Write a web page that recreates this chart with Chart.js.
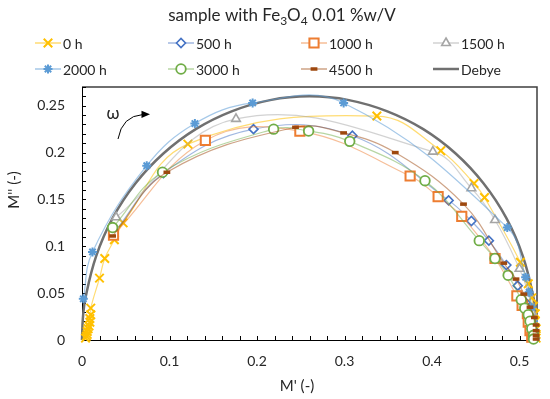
<!DOCTYPE html>
<html>
<head>
<meta charset="utf-8">
<script src="https://cdn.jsdelivr.net/npm/chart.js@4.4.1/dist/chart.umd.min.js"></script>
<style>
  html, body { margin: 0; padding: 0; background: #fff; }
</style>
</head>
<body>
<canvas id="colePlot" width="550" height="399"></canvas>
<script>
// ---- data (M', M'') ----
const seriesNames = ["0 h", "500 h", "1000 h", "1500 h", "2000 h", "3000 h", "4500 h", "Debye"];

const m0h = [[0.004,0.002],[0.005,0.004],[0.006,0.006],[0.006,0.009],[0.007,0.012],[0.008,0.015],[0.009,0.019],
  [0.009,0.023],[0.010,0.027],[0.010,0.034],[0.020,0.066],[0.026,0.087],[0.037,0.107],[0.047,0.125],
  [0.121,0.209],[0.337,0.239],[0.410,0.202],[0.448,0.167],[0.460,0.152],[0.501,0.083],[0.510,0.060],
  [0.514,0.045],[0.516,0.036],[0.518,0.028],[0.518,0.020],[0.519,0.012],[0.519,0.006],[0.519,0.002]];
const m500h = [[0.036,0.114],[0.093,0.178],[0.196,0.225],[0.309,0.218],
  [0.419,0.149],[0.445,0.127],[0.465,0.106],[0.485,0.080],[0.498,0.058],[0.507,0.040],[0.512,0.025],
  [0.515,0.012],[0.516,0.004]];
const m1000h = [[0.036,0.112],[0.141,0.213],[0.249,0.223],[0.375,0.175],
  [0.407,0.153],[0.434,0.132],[0.472,0.087],[0.497,0.047],[0.503,0.037],[0.509,0.028],[0.510,0.019],
  [0.512,0.010],[0.514,0.003]];
const m1500h = [[0.039,0.131],[0.176,0.236],[0.401,0.201],[0.445,0.162],[0.472,0.128],
  [0.500,0.076],[0.510,0.050],[0.514,0.030],[0.516,0.012],[0.517,0.003]];
const m2000h = [[0.0015,0.044],[0.012,0.094],[0.074,0.186],[0.129,0.231],[0.195,0.253],
  [0.299,0.253],[0.486,0.120],[0.507,0.067],[0.511,0.051],[0.514,0.035],[0.516,0.020],[0.517,0.008],
  [0.518,0.002]];
const m3000h = [[0.035,0.120],[0.092,0.179],[0.219,0.225],[0.259,0.223],
  [0.306,0.212],[0.392,0.170],[0.454,0.106],[0.472,0.087],[0.487,0.069],[0.502,0.043],[0.506,0.034],
  [0.510,0.027],[0.512,0.020],[0.514,0.012],[0.516,0.005],[0.516,0.001]];
const m4500h = [[0.035,0.111],[0.097,0.179],[0.244,0.227],[0.299,0.221],
  [0.358,0.200],[0.436,0.145],[0.482,0.082],[0.496,0.065],[0.505,0.049],[0.512,0.035],[0.517,0.024],
  [0.519,0.016],[0.519,0.010],[0.519,0.005],[0.519,0.001]];
const mDebye = [[0,0],[0.001,0.023],[0.004,0.045],[0.016,0.089],[0.035,0.130],[0.061,0.167],[0.093,0.199],
  [0.130,0.225],[0.171,0.244],[0.215,0.256],[0.260,0.260],[0.305,0.256],[0.349,0.244],[0.390,0.225],
  [0.427,0.199],[0.459,0.167],[0.485,0.130],[0.504,0.089],[0.516,0.045],[0.519,0.023],[0.520,0]];

const xTickValues = [0, 0.1, 0.2, 0.3, 0.4, 0.5];
const xTickLabels = ["0", "0.1", "0.2", "0.3", "0.4", "0.5"];
const yTickValues = [0, 0.05, 0.1, 0.15, 0.2, 0.25];
const yTickLabels = ["0", "0.05", "0.1", "0.15", "0.2", "0.25"];

const titleParts = [["sample with Fe", false], ["3", true], ["O", false], ["4", true], [" 0.01 %w/V", false]];
const xTitle = "M' (-)";
const yTitle = "M'' (-)";

// ---- styles ----
const FONT = "Lato, 'Open Sans', sans-serif";
const TEXT = "#262626";

const styles = [
  { line: "rgba(255,192,0,0.55)",  mark: "#FFC000", style: "crossRot", r: 6,   bw: 2 },
  { line: "rgba(68,114,196,0.5)",  mark: "#4472C4", style: "rectRot",  r: 4.5, bw: 1.6 },
  { line: "rgba(237,125,49,0.5)",  mark: "#ED7D31", style: "rect",     r: 6.5, bw: 2 },
  { line: "rgba(165,165,165,0.5)", mark: "#A5A5A5", style: "triangle", r: 5,   bw: 1.6 },
  { line: "rgba(91,155,213,0.55)", mark: "#5B9BD5", style: "star",     r: 4.5, bw: 2 },
  { line: "rgba(112,173,71,0.5)",  mark: "#70AD47", style: "circle",   r: 4.8, bw: 1.8 },
  { line: "rgba(158,72,14,0.5)",   mark: "#9E480E", style: "line",     r: 3.4, bw: 3.5 },
  { line: "#707070",               mark: null,      style: false,      r: 0,   bw: 0 }
];

const allSeries = [m0h, m500h, m1000h, m1500h, m2000h, m3000h, m4500h, mDebye];

const datasets = allSeries.map(function (pts, i) {
  const s = styles[i];
  return {
    label: seriesNames[i],
    data: pts.map(p => ({ x: p[0], y: p[1] })),
    showLine: true,
    tension: 0.4,
    borderColor: s.line,
    borderWidth: i === 7 ? 2.5 : 1.2,
    pointStyle: s.style,
    pointRadius: s.r,
    pointBorderWidth: s.bw,
    pointBorderColor: s.mark || s.line,
    pointBackgroundColor: s.style === "line" ? s.mark : "#fff",
    clip: false,
    order: i === 7 ? 20 : 10 - i
  };
});

function labelFor(values, labels, v) {
  for (let k = 0; k < values.length; k++) {
    if (Math.abs(values[k] - v) < 1e-6) return labels[k];
  }
  return "";
}

// title, legend, axis titles, inner ticks, omega arrow
const decorPlugin = {
  id: "decor",
  beforeDatasetsDraw(chart) {
    const ctx = chart.ctx, a = chart.chartArea;
    const xs = chart.scales.x, ys = chart.scales.y;
    ctx.save();
    ctx.strokeStyle = "#3f3f3f";
    ctx.lineWidth = 1.5;
    ctx.beginPath();
    ctx.moveTo(a.left, a.top);
    ctx.lineTo(a.right, a.top);
    ctx.lineTo(a.right, a.bottom);
    ctx.stroke();

    ctx.strokeStyle = "#000";
    ctx.lineWidth = 1;
    xs.ticks.forEach(t => {
      const px = Math.round(xs.getPixelForValue(t.value)) + 0.5;
      ctx.beginPath(); ctx.moveTo(px, a.bottom); ctx.lineTo(px, a.bottom - 4); ctx.stroke();
    });
    ys.ticks.forEach(t => {
      const py = Math.round(ys.getPixelForValue(t.value)) + 0.5;
      ctx.beginPath(); ctx.moveTo(a.left, py); ctx.lineTo(a.left + 4, py); ctx.stroke();
    });
    ctx.restore();
  },
  afterDraw(chart) {
    const ctx = chart.ctx;
    ctx.save();
    ctx.fillStyle = TEXT;

    // title with subscripts
    let total = 0;
    titleParts.forEach(p => {
      ctx.font = p[1] ? "12px " + FONT : "17px " + FONT;
      total += ctx.measureText(p[0]).width;
    });
    let tx = 282 - total / 2;
    ctx.textBaseline = "alphabetic";
    ctx.textAlign = "left";
    titleParts.forEach(p => {
      ctx.font = p[1] ? "12px " + FONT : "17px " + FONT;
      ctx.fillText(p[0], tx, p[1] ? 25 : 21);
      tx += ctx.measureText(p[0]).width;
    });

    // legend grid
    const colX = [35, 168, 301, 433];
    const rowY = [43, 69];
    chart.data.datasets.forEach((ds, i) => {
      const x0 = colX[i % 4], y = rowY[Math.floor(i / 4)];
      const s = styles[i];
      ctx.strokeStyle = s.line;
      ctx.lineWidth = i === 7 ? 2.5 : 1.5;
      ctx.beginPath(); ctx.moveTo(x0, y); ctx.lineTo(x0 + 26, y); ctx.stroke();
      if (s.style) {
        ctx.strokeStyle = s.mark;
        ctx.fillStyle = s.style === "line" ? s.mark : "#fff";
        ctx.lineWidth = s.bw;
        Chart.helpers.drawPoint(ctx, { pointStyle: s.style, radius: s.r, borderWidth: s.bw, rotation: 0 }, x0 + 13, y);
      }
      ctx.fillStyle = TEXT;
      ctx.font = "14px " + FONT;
      ctx.textBaseline = "middle";
      ctx.fillText(ds.label, x0 + 28, y + 1);
    });

    // axis titles
    ctx.font = "15px " + FONT;
    ctx.textAlign = "center";
    ctx.textBaseline = "middle";
    ctx.fillText(xTitle, 297, 386);
    ctx.save();
    ctx.translate(14, 190);
    ctx.rotate(-Math.PI / 2);
    ctx.fillText(yTitle, 0, 0);
    ctx.restore();

    // omega and arrow
    ctx.font = "17px " + FONT;
    ctx.fillText("\u03c9", 113, 114);
    ctx.strokeStyle = "#000";
    ctx.lineWidth = 1;
    ctx.beginPath();
    ctx.moveTo(118, 139);
    ctx.quadraticCurveTo(122, 116, 143, 114.5);
    ctx.stroke();
    ctx.fillStyle = "#000";
    ctx.beginPath();
    ctx.moveTo(150, 114.3);
    ctx.lineTo(141.5, 110.8);
    ctx.lineTo(141.5, 118);
    ctx.closePath();
    ctx.fill();
    ctx.restore();
  }
};

new Chart(document.getElementById("colePlot"), {
  type: "scatter",
  data: { datasets: datasets },
  options: {
    responsive: false,
    animation: false,
    layout: { padding: { top: 87, right: 8, bottom: 0, left: 0 } },
    plugins: {
      legend: { display: false },
      title: { display: false },
      tooltip: { enabled: false }
    },
    scales: {
      x: {
        type: "linear",
        min: 0,
        max: 0.52,
        grid: { display: false, drawTicks: false },
        border: { display: true, color: "#000", width: 1 },
        ticks: {
          stepSize: 0.02,
          autoSkip: false,
          maxRotation: 0,
          padding: 13,
          color: TEXT,
          font: { family: FONT, size: 14 },
          callback: v => labelFor(xTickValues, xTickLabels, v)
        },
        afterFit: s => { s.height = 59; }
      },
      y: {
        type: "linear",
        min: 0,
        max: 0.27,
        grid: { display: false, drawTicks: false },
        border: { display: true, color: "#000", width: 1 },
        ticks: {
          stepSize: 0.01,
          autoSkip: false,
          padding: 17,
          color: TEXT,
          font: { family: FONT, size: 14 },
          callback: v => labelFor(yTickValues, yTickLabels, v)
        },
        afterFit: s => { s.width = 82; }
      }
    }
  },
  plugins: [decorPlugin]
});
</script>
</body>
</html>
